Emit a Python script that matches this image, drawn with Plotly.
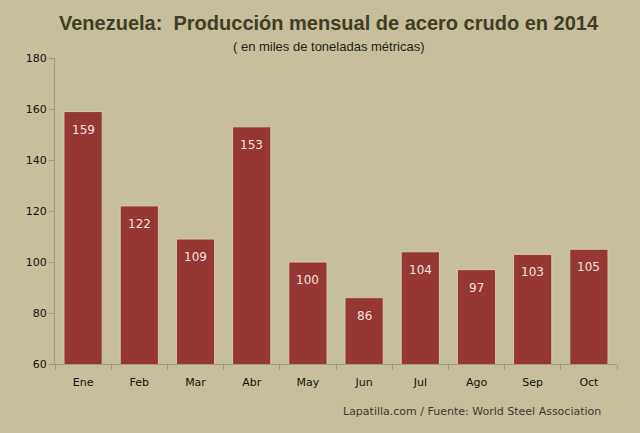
import plotly.graph_objects as go

months = ["Ene", "Feb", "Mar", "Abr", "May", "Jun", "Jul", "Ago", "Sep", "Oct"]
values = [159, 122, 109, 153, 100, 86, 104, 97, 103, 105]

bg = "#C7BF9B"
bar_color = "#953735"

fig = go.Figure(go.Bar(
    x=months, y=values,
    marker=dict(color=bar_color, line=dict(color="#D9C8A8", width=1)),
    width=0.68,
    hoverinfo="x+y",
))

for m, v in zip(months, values):
    fig.add_annotation(x=m, y=v, text=str(v), showarrow=False, yanchor="middle",
                       yshift=-18, font=dict(color="#F5E0DE", size=12, family="DejaVu Sans"))

fig.update_layout(
    width=640, height=433,
    paper_bgcolor=bg, plot_bgcolor=bg,
    margin=dict(l=55, r=23, t=58, b=69),
    showlegend=False,
    font=dict(family="DejaVu Sans", size=11, color="#222222"),
)
fig.add_annotation(text="<b>Venezuela:  Producción mensual de acero crudo en 2014</b>",
                   xref="paper", yref="paper", x=0.487, y=1.115, xanchor="center", yanchor="middle",
                   showarrow=False, font=dict(family="Liberation Sans", size=20, color="#3E3D25"))
fig.add_annotation(text="( en miles de toneladas métricas)",
                   xref="paper", yref="paper", x=0.487, y=1.036, xanchor="center", yanchor="middle",
                   showarrow=False, font=dict(family="Liberation Sans", size=13, color="#1E1E1E"))
fig.add_annotation(text="Lapatilla.com / Fuente: World Steel Association",
                   xref="paper", yref="paper", x=0.975, y=-0.155, xanchor="right", yanchor="middle",
                   showarrow=False, font=dict(family="DejaVu Sans", size=11, color="#3A3A3A"))

fig.update_yaxes(range=[60, 180], dtick=20, showgrid=False, zeroline=False,
                 showline=True, linecolor="#9A9A88", linewidth=1,
                 ticks="outside", ticklen=5, tickcolor="#9A9A88",
                 tickfont=dict(family="DejaVu Sans", size=11, color="#111111"))
fig.update_xaxes(showgrid=False, showline=True, linecolor="#9A9A88", linewidth=1,
                 ticks="outside", tickson="boundaries", ticklen=5, tickcolor="#9A9A88",
                 ticklabelstandoff=8,
                 tickfont=dict(family="DejaVu Sans", size=11, color="#111111"))

fig.write_html("out.html", config={"displayModeBar": False},
               post_script="document.body.style.margin='0';document.body.style.background='%s';" % bg)
